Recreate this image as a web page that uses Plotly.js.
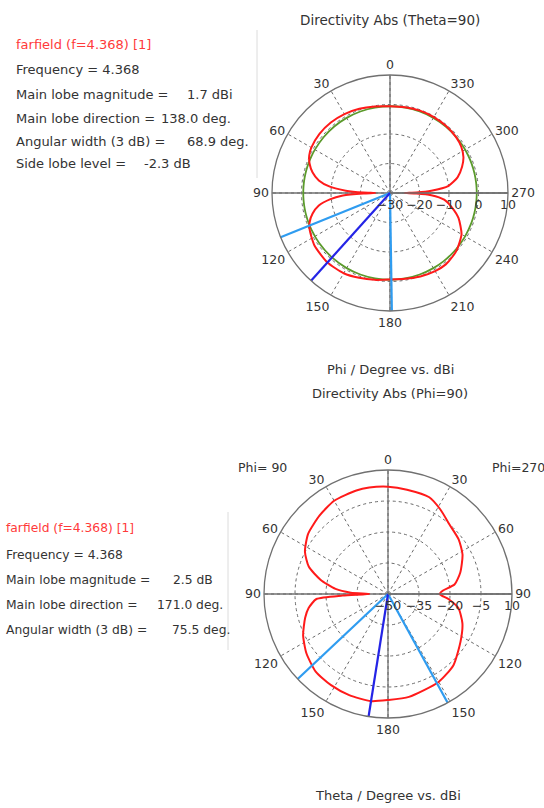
<!DOCTYPE html>
<html><head><meta charset="utf-8">
<script src="https://cdn.plot.ly/plotly-3.0.1.min.js"></script>
<style>html,body{margin:0;padding:0;background:#fff;}#chart{width:544px;height:808px;}</style>
</head><body><div id="chart"></div>
<script>
// ---------- Top plot: Directivity Abs (Theta=90), Phi cut ----------
const phiTop = [0,10,20,30,40,50,60,65,70,75,80,84,87,89,90,91,93,96,100,105,110,115,125,138,150,160,170,180,190,200,210,218,225,230,240,250,257,263,267,269,270,271,273,277,283,290,296,303,310,320,330,340,350,360];
const dirTop = [-0.6,-0.2,0.4,0.9,1.2,1.2,0.8,0.2,-1.0,-2.8,-5.5,-9.5,-15,-21,-25,-21,-14,-9.5,-5.5,-2.8,-1.0,0.0,1.2,1.7,1.4,0.6,-0.1,-0.7,-0.5,0.1,0.6,0.7,0.2,-0.3,-2.0,-5.3,-8.5,-11.5,-16,-21,-25,-21,-16,-10,-6.5,-4.0,-2.3,-1.2,-0.7,-0.4,-0.3,-0.3,-0.5,-0.6];
const topMainDir = 138.0;
const topWidthDirs = [112.0, 180.9];
const topRefLevel = -0.6;          // main lobe magnitude + side lobe level
const topRange = [-30, 10];
const topRTicks = [-30, -20, -10, 0, 10];
const topATicks = [0,30,60,90,120,150,180,210,240,270,300,330];
const topATickText = ['0','30','60','90','120','150','180','210','240','270','300','330'];
const topInfoLabels = ['Frequency = 4.368','Main lobe magnitude =','Main lobe direction =','Angular width (3 dB) =','Side lobe level ='];
const topInfoValues = ['','1.7 dBi','138.0 deg.','68.9 deg.','-2.3 dB'];

// ---------- Bottom plot: Directivity Abs (Phi=90), Theta cut ----------
// polar angle: left half = theta on Phi=90 side, right half = 360 - theta on Phi=270 side
const angBot = [0,10,17,30,41,53,63,71,78,84.5,88,90,92,94,100,106,116,126,137,148,159,171,180,191.5,209.9,222.6,237,248.5,258.5,265,270,273.7,278.1,286.6,297.9,307.6,318.5,328.2,336.9,349.7,360];
const dirBot = [1.9,2.3,2.4,2.1,0.4,-1.6,-4.9,-9.5,-16.6,-24.5,-32,-41,-28,-15.3,-11,-8.3,-4.3,-1.2,1.3,2.0,2.4,2.5,1.3,0.8,-0.9,-3.2,-8.1,-11.3,-15.2,-20.5,-25,-23.3,-17.5,-13.5,-9.2,-6.8,-5.1,-1.9,0.9,1.3,1.9];
const botMainDir = 171.0;
const botWidthDirs = [133.25, 208.75];
const botRange = [-50, 10];
const botRTicks = [-50, -35, -20, -5, 10];
const botATicks = [0,30,60,90,120,150,180,210,240,270,300,330];
const botATickText = ['0','30','60','90','120','150','180','150','120','90','60','30'];
const botInfoLabels = ['Frequency = 4.368','Main lobe magnitude =','Main lobe direction =','Angular width (3 dB) ='];
const botInfoValues = ['','2.5 dB','171.0 deg.','75.5 deg.'];

// ---------- styling ----------
const W = 544, H = 808;
const FONT = 'DejaVu Sans, Verdana, sans-serif';
const RED = '#ff1a1a', GREEN = '#5b9a2c', LBLUE = '#2f9cf0', DBLUE = '#2424e6', AX = '#707070', GRID = '#6a6a6a';
const px = x => x / W, py = y => 1 - y / H;

function axisCross(sub, rng) {
  return [[0,180],[90,270]].map(t => ({type:'scatterpolar', subplot:sub, r:[rng[1], rng[1]], theta:t, mode:'lines', line:{color:AX, width:1.3}, hoverinfo:'skip'}));
}
function dirLine(sub, rng, ang, color, w) {
  return {type:'scatterpolar', subplot:sub, r:[rng[0], rng[1]], theta:[ang, ang], mode:'lines', line:{color:color, width:w}, hoverinfo:'skip'};
}

const traces = [
  ...axisCross('polar', topRange),
  {type:'scatterpolar', subplot:'polar', r: phiTop.map(() => topRefLevel), theta: phiTop, mode:'lines', line:{color:GREEN, width:1.8, shape:'spline', smoothing:1}, hoverinfo:'skip'},
  {type:'scatterpolar', subplot:'polar', r: dirTop, theta: phiTop, mode:'lines', line:{color:RED, width:2, shape:'spline', smoothing:0.6}, hoverinfo:'skip'},
  dirLine('polar', topRange, topWidthDirs[0], LBLUE, 2.2),
  dirLine('polar', topRange, topWidthDirs[1], LBLUE, 2.2),
  dirLine('polar', topRange, topMainDir, DBLUE, 2.2),

  ...axisCross('polar2', botRange),
  {type:'scatterpolar', subplot:'polar2', r: dirBot, theta: angBot, mode:'lines', line:{color:RED, width:2, shape:'spline', smoothing:0.6}, hoverinfo:'skip'},
  dirLine('polar2', botRange, botWidthDirs[0], LBLUE, 2.2),
  dirLine('polar2', botRange, botWidthDirs[1], LBLUE, 2.2),
  dirLine('polar2', botRange, botMainDir, DBLUE, 2.2),
];

function polarCfg(cx, cy, R, rng, rticks, aticks, atext) {
  return {
    domain: {x:[px(cx - R), px(cx + R)], y:[py(cy + R), py(cy - R)]},
    bgcolor: 'rgba(0,0,0,0)',
    angularaxis: {rotation:90, direction:'counterclockwise', tickmode:'array', tickvals:aticks, ticktext:atext,
      showline:true, linecolor:AX, linewidth:1.3, showgrid:true, gridcolor:GRID, gridwidth:1, griddash:'dot',
      ticks:'', tickfont:{family:FONT, size:12.5, color:'#333'}},
    radialaxis: {range:rng, tickmode:'array', tickvals:rticks, angle:0, side:'clockwise',
      showline:true, linecolor:AX, linewidth:1.3, showgrid:true, gridcolor:GRID, gridwidth:1, griddash:'dot',
      ticks:'', tickfont:{family:FONT, size:12.5, color:'#333'}}
  };
}

const ann = [];
function txt(x, y, s, size, color, extra) {
  ann.push(Object.assign({xref:'paper', yref:'paper', x:px(x), y:py(y), text:s, showarrow:false,
    xanchor:'left', yanchor:'middle', font:{family:FONT, size:size, color:color || '#333'}}, extra || {}));
}
// top legend box
txt(14, 44, 'farfield (f=4.368) [1]', 13, '#ff3a3a');
const topY = [70, 94, 118, 142, 164];
const topVX = [0, 185, 159, 185, 142];
topInfoLabels.forEach((s, i) => { txt(14, topY[i], s, 13); if (topInfoValues[i]) txt(topVX[i], topY[i], topInfoValues[i], 13); });
// bottom legend box
txt(4, 528, 'farfield (f=4.368) [1]', 12.3, '#ff3a3a');
const botY = [555, 580, 605, 630];
const botVX = [0, 171, 155, 170];
botInfoLabels.forEach((s, i) => { txt(4, botY[i], s, 12.3); if (botInfoValues[i]) txt(botVX[i], botY[i], botInfoValues[i], 12.3); });
// titles
txt(390, 20, 'Directivity Abs (Theta=90)', 13.5, '#333', {xanchor:'center'});
txt(390, 370, 'Phi / Degree vs. dBi', 13, '#333', {xanchor:'center'});
txt(390, 393, 'Directivity Abs (Phi=90)', 13, '#333', {xanchor:'center'});
txt(388, 795, 'Theta / Degree vs. dBi', 13, '#333', {xanchor:'center'});
txt(236, 468, 'Phi= 90', 12.5);
txt(490, 468, 'Phi=270', 12.5);

const shapes = [
  {type:'line', xref:'paper', yref:'paper', x0:px(257), x1:px(257), y0:py(30), y1:py(178), line:{color:'#dcdcdc', width:1}},
  {type:'line', xref:'paper', yref:'paper', x0:px(228), x1:px(228), y0:py(512), y1:py(650), line:{color:'#dcdcdc', width:1}},
];

const layout = {
  width: W, height: H, margin:{l:0, r:0, t:0, b:0},
  paper_bgcolor:'#fff', showlegend:false,
  polar: polarCfg(390, 193, 118, topRange, topRTicks, topATicks, topATickText),
  polar2: polarCfg(388, 594, 124, botRange, botRTicks, botATicks, botATickText),
  annotations: ann, shapes: shapes
};
Plotly.newPlot('chart', traces, layout, {staticPlot:true, displayModeBar:false});
</script></body></html>
